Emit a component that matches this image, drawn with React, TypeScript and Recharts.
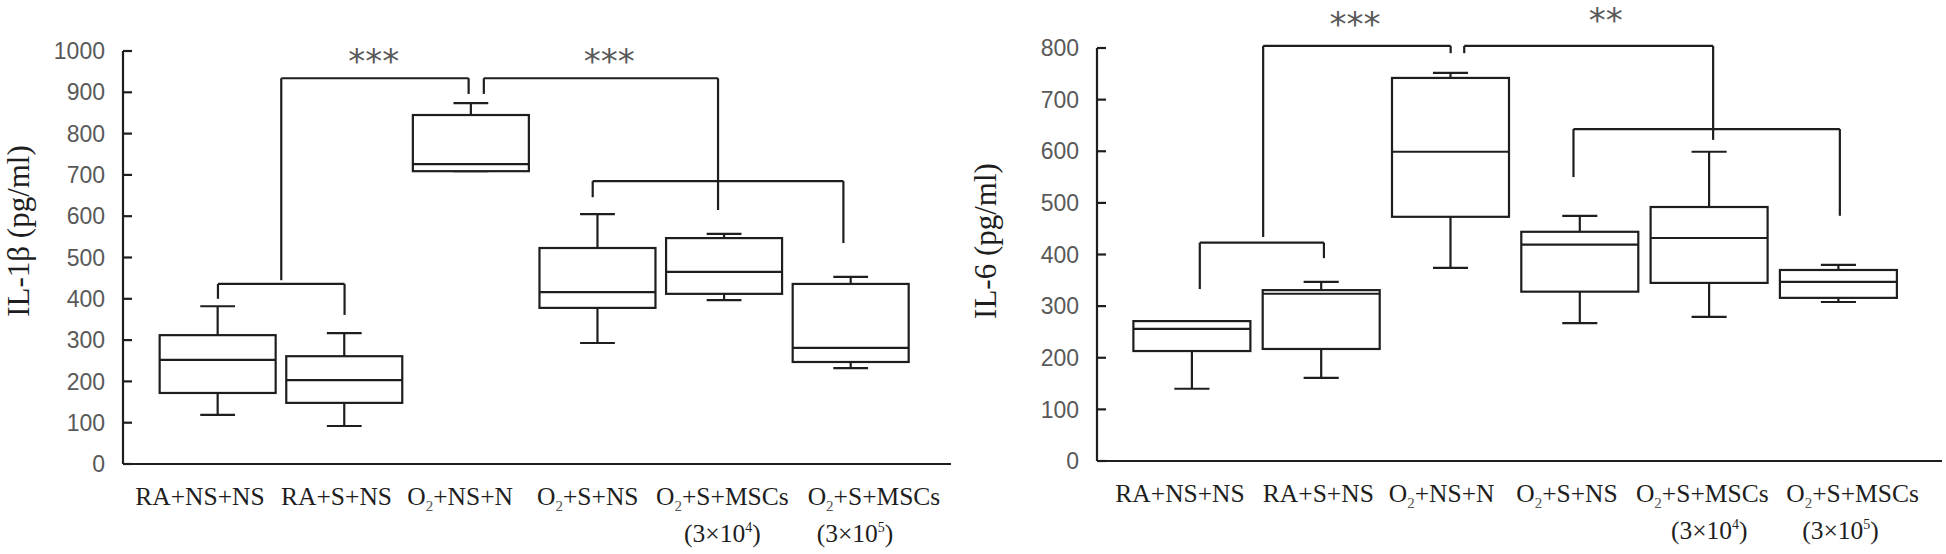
import React from 'react';
import { ComposedChart, Bar, XAxis, YAxis, ReferenceLine, ReferenceDot } from 'recharts';

// ---------- data ----------
const categories = ['RA+NS+NS', 'RA+S+NS', 'O2+NS+N', 'O2+S+NS', 'O2+S+MSCs', 'O2+S+MSCs'];
const doses = ['', '', '', '', '(3×10^4)', '(3×10^5)'];

const il1bMin = [119, 92, 709, 293, 397, 232];
const il1bQ1 = [172, 148, 709, 378, 412, 247];
const il1bMedian = [252, 203, 726, 416, 465, 281];
const il1bQ3 = [312, 261, 845, 523, 547, 436];
const il1bMax = [382, 317, 874, 605, 557, 453];
const il1bTicks = [0, 100, 200, 300, 400, 500, 600, 700, 800, 900, 1000];

const il6Min = [140, 161, 374, 267, 279, 308];
const il6Q1 = [213, 217, 473, 328, 345, 316];
const il6Median = [256, 324, 599, 419, 432, 347];
const il6Q3 = [271, 331, 742, 444, 492, 370];
const il6Max = [271, 347, 752, 475, 599, 380];
const il6Ticks = [0, 100, 200, 300, 400, 500, 600, 700, 800];

// significance brackets: polylines in (group index, value) coordinates
const il1bBrackets = [
  [[0, 400], [0, 436], [1, 436], [1, 361]],
  [[0.5, 445], [0.5, 934]],
  [[0.5, 934], [1.98, 934], [1.98, 896]],
  [[2.1, 896], [2.1, 934], [3.95, 934], [3.95, 615]],
  [[2.96, 646], [2.96, 685], [4.94, 685], [4.94, 535]],
];
const il1bStars = [
  { x: 1.23, y: 990, text: '***' },
  { x: 3.09, y: 990, text: '***' },
];

const il6Brackets = [
  [[0.06, 333], [0.06, 423], [1.02, 423], [1.02, 393]],
  [[0.55, 434], [0.55, 804]],
  [[0.55, 804], [2.0, 804], [2.0, 790]],
  [[2.105, 790], [2.105, 804], [4.03, 804], [4.03, 622]],
  [[2.95, 550], [2.95, 643], [5.01, 643], [5.01, 475]],
];
const il6Stars = [
  { x: 1.26, y: 858, text: '***' },
  { x: 3.2, y: 865, text: '**' },
];

// ---------- styling / layout ----------
const INK = '#1e1e1e';
const GRAY = '#595959';
const SERIF = '"Liberation Serif", "Times New Roman", serif';
const SANS = '"Liberation Sans", Arial, sans-serif';

function buildRows(mins: number[], q1: number[], med: number[], q3: number[], max: number[]) {
  return categories.map((c, i) => ({
    idx: i,
    name: c,
    min: mins[i],
    q1: q1[i],
    median: med[i],
    q3: q3[i],
    max: max[i],
    range: [mins[i], max[i]],
  }));
}

function BoxShape(props: any) {
  const { x, y, width, height, payload } = props;
  if (!payload || !height) return null;
  const { min, q1, median, q3, max } = payload;
  const k = height / (max - min);
  const py = (v: number) => y + (max - v) * k;
  const cx = x + width / 2;
  const cap = width * 0.15;
  const s = { stroke: INK, strokeWidth: 2.2, fill: 'none' };
  return (
    <g>
      <line x1={cx} x2={cx} y1={py(max)} y2={py(q3)} {...s} />
      <line x1={cx - cap} x2={cx + cap} y1={py(max)} y2={py(max)} {...s} />
      <line x1={cx} x2={cx} y1={py(q1)} y2={py(min)} {...s} />
      <line x1={cx - cap} x2={cx + cap} y1={py(min)} y2={py(min)} {...s} />
      <rect x={x} y={py(q3)} width={width} height={py(q1) - py(q3)} fill="#fff" stroke={INK} strokeWidth={2.2} />
      <line x1={x} x2={x + width} y1={py(median)} y2={py(median)} {...s} />
    </g>
  );
}

function renderMain(label: string) {
  if (label.startsWith('O2')) {
    return [
      <tspan key="o">O</tspan>,
      <tspan key="s" fontSize={15} dy={6} fill="#555">2</tspan>,
      <tspan key="r" dy={-6}>{label.slice(2)}</tspan>,
    ];
  }
  return label;
}

function renderDose(label: string) {
  const m = label.match(/^(.*)\^(\d)(.*)$/);
  if (!m) return label;
  return [
    <tspan key="a">{m[1]}</tspan>,
    <tspan key="b" fontSize={14} dy={-10}>{m[2]}</tspan>,
    <tspan key="c" dy={10}>{m[3]}</tspan>,
  ];
}

function XTick(props: any) {
  const { x, y, payload, shifts, shifts2 } = props;
  const i = Math.round(payload.value);
  const main = categories[i];
  const dose = doses[i];
  if (main === undefined) return null;
  return (
    <g>
      <text x={x + shifts[i]} y={y + 41} textAnchor="middle" fontFamily={SERIF} fontSize={25.5} fill={INK}>
        {renderMain(main)}
      </text>
      {dose ? (
        <text x={x + shifts2[i]} y={y + 78} textAnchor="middle" fontFamily={SERIF} fontSize={25.5} fill={INK}>
          {renderDose(dose)}
        </text>
      ) : null}
    </g>
  );
}

function YTitle(props: any) {
  const { tx, ty, text } = props;
  return (
    <text
      transform={`translate(${tx}, ${ty}) rotate(-90)`}
      textAnchor="middle"
      fontFamily={SERIF}
      fontSize={31}
      fill={INK}
    >
      {text}
    </text>
  );
}

function StarShape(props: any) {
  const { cx, cy, text } = props;
  return (
    <text x={cx} y={cy + 18} textAnchor="middle" fontFamily='"DejaVu Sans", sans-serif' fontSize={34} fill={GRAY}>
      {text}
    </text>
  );
}

type PanelProps = {
  left: number;
  width: number;
  top: number;
  right: number;
  yAxisWidth: number;
  xAxisHeight: number;
  xDomain: [number, number];
  yDomain: [number, number];
  yTicks: number[];
  rows: any[];
  brackets: number[][][];
  stars: { x: number; y: number; text: string }[];
  title: string;
  titleX: number;
  titleY: number;
  barSize: number;
  shifts: number[];
  shifts2: number[];
};

function Panel(p: PanelProps) {
  const segs: any[] = [];
  p.brackets.forEach((poly, bi) => {
    for (let j = 0; j < poly.length - 1; j++) {
      segs.push(
        <ReferenceLine
          key={`b${bi}-${j}`}
          segment={[
            { x: poly[j][0], y: poly[j][1] },
            { x: poly[j + 1][0], y: poly[j + 1][1] },
          ]}
          stroke={INK}
          strokeWidth={2.2}
          ifOverflow="visible"
        />
      );
    }
  });
  return (
    <div style={{ position: 'absolute', left: p.left, top: 0 }}>
      <ComposedChart
        width={p.width}
        height={554}
        data={p.rows}
        margin={{ top: p.top, right: p.right, bottom: 0, left: 0 }}
      >
        <XAxis
          dataKey="idx"
          type="number"
          domain={p.xDomain}
          allowDataOverflow
          ticks={[0, 1, 2, 3, 4, 5]}
          interval={0}
          height={p.xAxisHeight}
          tickLine={false}
          tickSize={0}
          tickMargin={0}
          axisLine={{ stroke: INK, strokeWidth: 2.2 }}
          tick={(tp: any) => <XTick {...tp} shifts={p.shifts} shifts2={p.shifts2} />}
        />
        <YAxis
          type="number"
          domain={p.yDomain}
          ticks={p.yTicks}
          interval={0}
          width={p.yAxisWidth}
          tickSize={-9}
          tickMargin={27}
          axisLine={{ stroke: INK, strokeWidth: 2.2 }}
          tickLine={{ stroke: INK, strokeWidth: 2.2 }}
          tick={{ fill: GRAY, fontSize: 23, fontFamily: SANS }}
          label={<YTitle tx={p.titleX} ty={p.titleY} text={p.title} />}
        />
        <Bar dataKey="range" barSize={p.barSize} isAnimationActive={false} shape={(sp: any) => <BoxShape {...sp} />} />
        {segs}
        {p.stars.map((s, i) => (
          <ReferenceDot
            key={`s${i}`}
            x={s.x}
            y={s.y}
            r={0}
            ifOverflow="visible"
            shape={(dp: any) => <StarShape {...dp} text={s.text} />}
          />
        ))}
      </ComposedChart>
    </div>
  );
}

const il1bRows = buildRows(il1bMin, il1bQ1, il1bMedian, il1bQ3, il1bMax);
const il6Rows = buildRows(il6Min, il6Q1, il6Median, il6Q3, il6Max);

export default function App() {
  return (
    <div style={{ position: 'absolute', left: 0, top: 0, width: 1946, height: 554, background: '#fff' }}>
      <Panel
        left={0}
        width={980}
        top={51}
        right={29}
        yAxisWidth={123}
        xAxisHeight={90}
        xDomain={[-0.75, 5.79]}
        yDomain={[0, 1000]}
        yTicks={il1bTicks}
        rows={il1bRows}
        brackets={il1bBrackets}
        stars={il1bStars}
        title="IL-1β (pg/ml)"
        titleX={29}
        titleY={231}
        barSize={116}
        shifts={[-18, -8, -11, -10, -2, 23]}
        shifts2={[0, 0, 0, 0, -2, 4]}
      />
      <Panel
        left={960}
        width={986}
        top={48}
        right={4}
        yAxisWidth={137}
        xAxisHeight={93}
        xDomain={[-0.735, 5.8]}
        yDomain={[0, 800]}
        yTicks={il6Ticks}
        rows={il6Rows}
        brackets={il6Brackets}
        stars={il6Stars}
        title="IL-6 (pg/ml)"
        titleX={36}
        titleY={241}
        barSize={117}
        shifts={[-12, -3, -9, -13, -7, 14]}
        shifts2={[0, 0, 0, 0, 0, 2]}
      />
    </div>
  );
}
